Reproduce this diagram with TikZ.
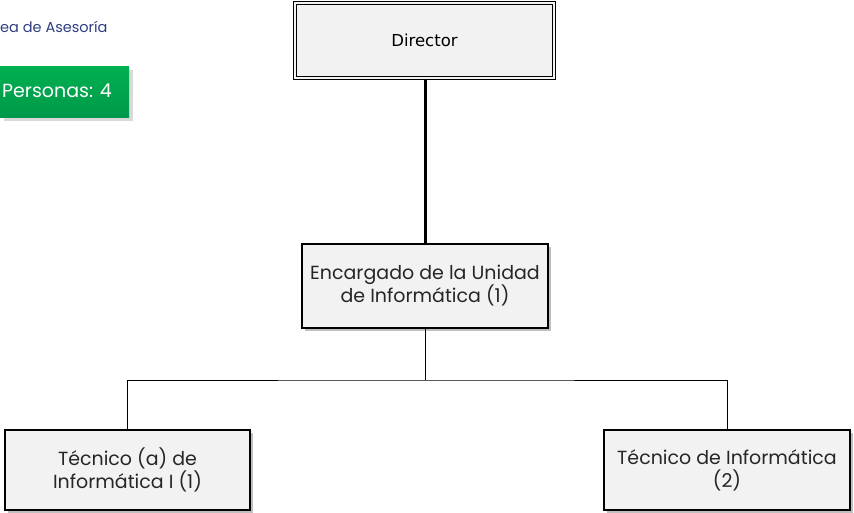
\documentclass[tikz,border=0pt]{standalone}
\usepackage{fontspec}
\setmainfont{Poppins}
\newfontfamily\dirfont{DejaVu Sans}
\usetikzlibrary{shadows}
\definecolor{boxgray}{HTML}{F2F2F2}
\definecolor{navy}{HTML}{2F3E7F}
\definecolor{gtop}{HTML}{00B050}
\definecolor{gbot}{HTML}{00994A}
\tikzset{
  orgbox/.style={draw=black, line width=1.5pt, fill=boxgray, minimum width=246pt, minimum height=84pt, align=center, font=\fontsize{19}{23}\selectfont\color{black!85}, inner sep=0pt, drop shadow={shadow xshift=3pt, shadow yshift=-3pt, fill=black!25, opacity=1}},
  conn/.style={draw=black, line width=1pt},
}
\begin{document}
\begin{tikzpicture}[x=1pt,y=-1pt]
\useasboundingbox (0,0) rectangle (854,512);
% top-left texts
\node[anchor=west, inner sep=0pt, font=\fontsize{14.5}{16}\selectfont, text=navy] (area) at (0,27) {ea de Asesoría};
\fill[black!15] (4,70) rectangle (133,121);
\shade[top color=gtop, bottom color=gbot] (0,66) rectangle (129,117);
\node[anchor=west, inner sep=0pt, font=\fontsize{19}{21}\selectfont, text=white] (pers) at (2,91) {Personas: 4};
% Director
\node[draw=black, line width=1.2pt, fill=boxgray, double=boxgray, double distance=2.5pt, minimum width=259pt, minimum height=75pt, inner sep=0pt, font=\dirfont\fontsize{16.5}{18}\selectfont] (dir) at (424.5,40.5) {Director};
% Encargado
\node[orgbox, minimum height=84pt] (enc) at (425,286) {Encargado de la Unidad\\de Informática (1)};
% Tecnicos
\node[orgbox, minimum height=80pt, minimum width=245pt] (t1) at (127.5,470) {Técnico (a) de\\Informática I (1)};
\node[orgbox, minimum height=80pt, minimum width=246pt] (t2) at (727,470) {Técnico de Informática\\(2)};
% connectors
\draw[conn, line width=3pt] (dir.south -| enc.north) -- (enc.north);
\coordinate (jn) at (425,380);
\draw[conn] (enc.south) -- (jn);
\draw[conn] (t1.north) |- (jn) -| (t2.north);
\end{tikzpicture}
\end{document}
